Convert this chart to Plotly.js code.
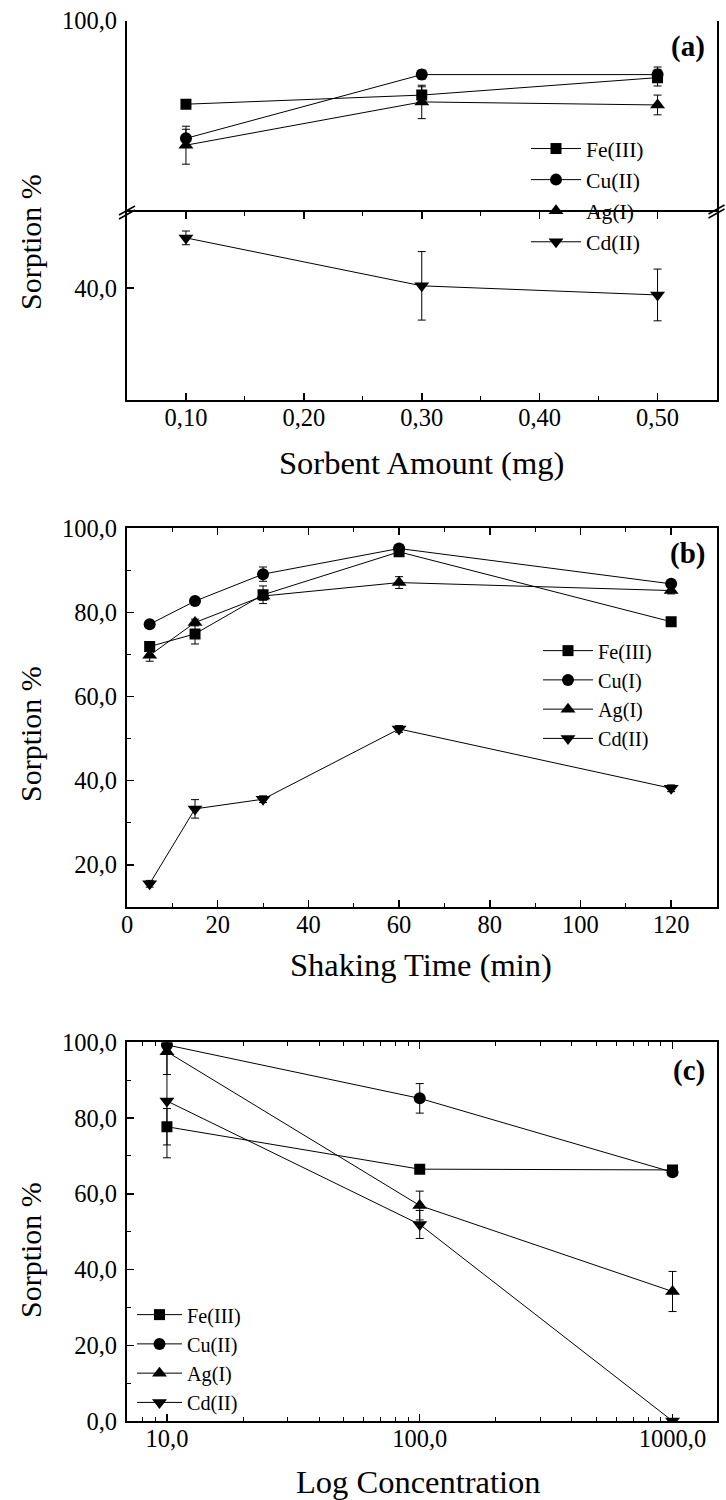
<!DOCTYPE html>
<html>
<head>
<meta charset="utf-8">
<script src="https://cdn.plot.ly/plotly-3.0.1.min.js"></script>
<style>html,body{margin:0;padding:0;background:#fff;}#chart{width:726px;height:1500px;}</style>
</head>
<body>
<div id="chart"></div>
<script>
// ---------- DATA ----------
var seriesNames = ['Fe(III)', 'Cu(II)', 'Ag(I)', 'Cd(II)'];
var seriesNamesB = ['Fe(III)', 'Cu(I)', 'Ag(I)', 'Cd(II)'];

// (a) Sorbent amount
var a_x = [0.10, 0.30, 0.50];
var a_fe = [89.0, 90.2, 92.5];
var a_fe_err = [0.5, 1.1, 1.1];
var a_cu = [84.5, 92.9, 92.9];
var a_cu_err = [1.2, 0.6, 1.0];
var a_ag = [83.6, 89.3, 88.9];
var a_ag_err = [2.5, 2.2, 1.3];
var a_cd = [46.6, 40.3, 39.1];
var a_cd_err = [0.9, 4.5, 3.4];

// (b) Shaking time
var b_x = [5, 15, 30, 60, 120];
var b_fe = [71.9, 74.9, 84.2, 94.4, 77.8];
var b_fe_err = [0.8, 2.4, 2.1, 0.8, 0.6];
var b_cu = [77.2, 82.7, 89.1, 95.2, 86.8];
var b_cu_err = [0.6, 0.6, 1.7, 0.8, 0.8];
var b_ag = [69.8, 77.6, 83.9, 87.1, 85.2];
var b_ag_err = [1.4, 0.8, 1.0, 1.4, 0.8];
var b_cd = [15.5, 33.3, 35.6, 52.3, 38.2];
var b_cd_err = [0.8, 2.2, 0.8, 0.8, 0.8];

// (c) Concentration
var c_x = [10, 100, 1000];
var c_fe = [77.7, 66.5, 66.3];
var c_fe_err = [4.8, 0.8, 0.8];
var c_cu = [99.3, 85.2, 65.7];
var c_cu_err = [0.5, 3.9, 0.8];
var c_ag = [97.5, 56.9, 34.2];
var c_ag_err = [6.0, 3.8, 5.3];
var c_cd = [84.5, 51.9, 0.0];
var c_cd_err = [15.0, 3.7, 0.0];

// tick labels
var a_xticks = [0.10, 0.20, 0.30, 0.40, 0.50];
var b_xticks = [0, 20, 40, 60, 80, 100, 120];
var c_xticks = [10, 100, 1000];
var c_xminor = [2,3,4,5,6,7,8,9,20,30,40,50,60,70,80,90,200,300,400,500,600,700,800,900];
var a_yticks_upper = [100];
var a_yticks_lower = [40];
var bc_yticks = [0, 20, 40, 60, 80, 100];

// ---------- STYLE ----------
var FONT = '"Liberation Serif", "Times New Roman", Times, serif';
var symbols = ['square', 'circle', 'triangle-up', 'triangle-down'];
var msizes = [11, 12, 13, 13];
var W = 726, H = 1500;
function px(x) { return x / W; }
function py(y) { return 1 - y / H; }

function mk(x, y, err, i, name, xa, ya, legend) {
  return {
    type: 'scatter', mode: 'lines+markers', name: name, x: x, y: y,
    xaxis: xa, yaxis: ya, legend: legend,
    line: {color: 'black', width: 1},
    marker: {symbol: symbols[i], size: msizes[i], color: 'black'},
    error_y: {type: 'data', array: err, visible: true, color: 'black', thickness: 1, width: 4}
  };
}

var traces = [
  mk(a_x, a_fe, a_fe_err, 0, seriesNames[0], 'x', 'y2', 'legend'),
  mk(a_x, a_cu, a_cu_err, 1, seriesNames[1], 'x', 'y2', 'legend'),
  mk(a_x, a_ag, a_ag_err, 2, seriesNames[2], 'x', 'y2', 'legend'),
  mk(a_x, a_cd, a_cd_err, 3, seriesNames[3], 'x', 'y', 'legend'),
  mk(b_x, b_fe, b_fe_err, 0, seriesNamesB[0], 'x2', 'y4', 'legend2'),
  mk(b_x, b_cu, b_cu_err, 1, seriesNamesB[1], 'x2', 'y4', 'legend2'),
  mk(b_x, b_ag, b_ag_err, 2, seriesNamesB[2], 'x2', 'y4', 'legend2'),
  mk(b_x, b_cd, b_cd_err, 3, seriesNamesB[3], 'x2', 'y4', 'legend2'),
  mk(c_x, c_fe, c_fe_err, 0, seriesNames[0], 'x3', 'y6', 'legend3'),
  mk(c_x, c_cu, c_cu_err, 1, seriesNames[1], 'x3', 'y6', 'legend3'),
  mk(c_x, c_ag, c_ag_err, 2, seriesNames[2], 'x3', 'y6', 'legend3'),
  mk(c_x, c_cd, c_cd_err, 3, seriesNames[3], 'x3', 'y6', 'legend3')
];

var XD = [px(127), px(716.5)];
var tickFont = {family: FONT, size: 24.5, color: 'black'};
var base = {
  showline: true, linecolor: 'black', linewidth: 2, showgrid: false, zeroline: false,
  ticks: 'inside', ticklen: 7, tickwidth: 1.5, tickcolor: 'black', tickfont: tickFont,
  fixedrange: true
};
function xax(o) { return Object.assign({}, base, {ticklabelstandoff: -5}, o); }
function yax(o) { return Object.assign({}, base, {ticklabelstandoff: 3}, o); }
function rightTicks(o) {
  return Object.assign({
    showline: false, showgrid: false, zeroline: false, side: 'right',
    ticks: 'inside', ticklen: 7, tickwidth: 1.5, tickcolor: 'black',
    showticklabels: false, range: [0, 5], tickmode: 'array', tickvals: [1, 2, 3, 4], fixedrange: true
  }, o);
}
var minorLin = function (d) { return {ticks: 'inside', dtick: d, ticklen: 4, tickwidth: 1, tickcolor: 'black'}; };

// domains
var aBot = py(400), aTop = py(20.7), aBrk = py(212);
var bBot = py(906.9), bTop = py(528.3);
var cBot = py(1421), cTop = py(1042.3);

function ann(text, x, y, size, extra) {
  return Object.assign({text: text, x: px(x), y: py(y), xref: 'paper', yref: 'paper',
    xanchor: 'center', yanchor: 'middle', showarrow: false,
    font: {family: FONT, size: size, color: 'black'}}, extra || {});
}

var layout = {
  width: W, height: H, margin: {l: 0, r: 0, t: 0, b: 0},
  paper_bgcolor: 'white', plot_bgcolor: 'white',
  separators: ',.',
  font: {family: FONT, color: 'black'},
  // panel (a)
  xaxis: xax({domain: XD, anchor: 'y3', range: [0.05, 0.55], tickmode: 'array', tickvals: a_xticks,
    tickformat: '.2f', mirror: 'ticks', minor: minorLin(0.05)}),
  yaxis: yax({domain: [aBot, aBrk], anchor: 'x', range: [25.3, 50], tickmode: 'array', tickvals: a_yticks_lower,
    tickformat: '.1f', mirror: true}),
  yaxis2: yax({domain: [aBrk, aTop], anchor: 'x', range: [74.8, 100], tickmode: 'array', tickvals: a_yticks_upper,
    tickformat: '.1f', mirror: true}),
  yaxis3: rightTicks({domain: [aBot, aTop], anchor: 'x'}),
  // panel (b)
  xaxis2: xax({domain: XD, anchor: 'y4', range: [0, 130], tickmode: 'array', tickvals: b_xticks,
    tickformat: 'd', mirror: 'ticks', minor: minorLin(10)}),
  yaxis4: yax({domain: [bBot, bTop], anchor: 'x2', range: [10, 100], tickmode: 'array', tickvals: bc_yticks,
    tickformat: '.1f', mirror: true, minor: minorLin(10)}),
  yaxis5: rightTicks({overlaying: 'y4', anchor: 'x2'}),
  // panel (c)
  xaxis3: xax({domain: XD, anchor: 'y6', type: 'log', range: [0.842, 3.174], tickmode: 'array', tickvals: c_xticks,
    tickformat: '.1f', mirror: 'ticks', minor: {ticks: 'inside', tickmode: 'array', tickvals: c_xminor, ticklen: 4, tickwidth: 1, tickcolor: 'black'}}),
  yaxis6: yax({domain: [cBot, cTop], anchor: 'x3', range: [0, 100], tickmode: 'array', tickvals: bc_yticks,
    tickformat: '.1f', mirror: true, minor: minorLin(10)}),
  yaxis7: rightTicks({overlaying: 'y6', anchor: 'x3'}),

  legend: {x: px(526), xanchor: 'left', y: py(128), yanchor: 'top', bgcolor: 'rgba(0,0,0,0)',
    font: {family: FONT, size: 21.6, color: 'black'}, tracegroupgap: 0, itemwidth: 50},
  legend2: {x: px(538), xanchor: 'left', y: py(631), yanchor: 'top', bgcolor: 'rgba(0,0,0,0)',
    font: {family: FONT, size: 20.2, color: 'black'}, tracegroupgap: 0, itemwidth: 50},
  legend3: {x: px(132), xanchor: 'left', y: py(1295), yanchor: 'top', bgcolor: 'rgba(0,0,0,0)',
    font: {family: FONT, size: 20.2, color: 'black'}, tracegroupgap: 0, itemwidth: 45},

  annotations: [
    ann('Sorption %', 30, 242, 30, {textangle: -90}),
    ann('Sorption %', 30, 734, 30, {textangle: -90}),
    ann('Sorption %', 30, 1250, 30, {textangle: -90}),
    ann('Sorbent Amount (mg)', 421, 463, 32.5),
    ann('Shaking Time (min)', 421, 965, 32.5),
    ann('Log Concentration', 418, 1482, 32.5),
    ann('<b>(a)</b>', 707, 47, 29, {xanchor: 'right'}),
    ann('<b>(b)</b>', 707, 553, 29, {xanchor: 'right'}),
    ann('<b>(c)</b>', 707, 1070, 29, {xanchor: 'right'})
  ],
  shapes: [
    {type: 'line', xref: 'paper', yref: 'paper', x0: px(119), y0: py(215), x1: px(135), y1: py(206), line: {color: 'black', width: 1.5}},
    {type: 'line', xref: 'paper', yref: 'paper', x0: px(119), y0: py(219), x1: px(135), y1: py(210), line: {color: 'black', width: 1.5}},
    {type: 'line', xref: 'paper', yref: 'paper', x0: px(708.5), y0: py(214), x1: px(724.5), y1: py(205), line: {color: 'black', width: 1.5}},
    {type: 'line', xref: 'paper', yref: 'paper', x0: px(708.5), y0: py(218), x1: px(724.5), y1: py(209), line: {color: 'black', width: 1.5}}
  ]
};

Plotly.newPlot('chart', traces, layout, {staticPlot: true, displayModeBar: false});
</script>
</body>
</html>
